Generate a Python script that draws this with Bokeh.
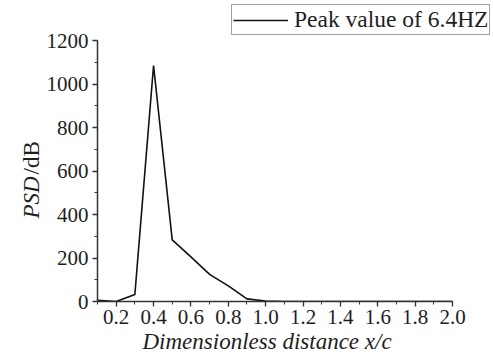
from bokeh.plotting import figure
from bokeh.layouts import row
from bokeh.models import (Range1d, SingleIntervalTicker, Legend, LegendItem,
                          PrintfTickFormatter, Title)
from bokeh.core.properties import value
from bokeh.embed import file_html
from bokeh.resources import INLINE

x_vals = [0.1, 0.2, 0.3, 0.4, 0.5, 0.6, 0.7, 0.8, 0.9, 1.0,
          1.1, 1.2, 1.3, 1.4, 1.5, 1.6, 1.7, 1.8, 1.9, 2.0]
psd_vals = [5, 0, 32, 1085, 283, 205, 125, 72, 12, 2,
            0, 0, 0, 0, 0, 0, 0, 0, 0, 0]
series_name = "Peak value of 6.4HZ"
x_label = "Dimensionless distance  x/c"
y_label_italic = "PSD"
y_label_plain = "/dB"

FONT = "Liberation Serif"
TXT = "#1e1e1e"

# geometry (pixels)
LEFT_W = 40
FRAME_LEFT = 97 - LEFT_W
FRAME_W = 493 - 97
FRAME_H = 301
px_per_x = (452 - 97) / (2.0 - 0.1)
px_per_y = (301 - 40) / 1200.0
x_end = 0.1 + FRAME_W / px_per_x
y_end = FRAME_H / px_per_y

main = figure(frame_width=FRAME_W, frame_height=FRAME_H, output_backend="svg",
              toolbar_location=None, title=None,
              x_range=Range1d(0.1, x_end), y_range=Range1d(0, y_end),
              min_border_left=FRAME_LEFT, min_border_right=0, min_border_top=0,
              min_border_bottom=0)
main.outline_line_color = None
main.grid.visible = False
main.background_fill_color = "white"
main.border_fill_color = "white"

r = main.line(x_vals, psd_vals, line_color="#111111", line_width=1.6)

main.xaxis.ticker = SingleIntervalTicker(interval=0.2, num_minor_ticks=2)
main.xaxis.formatter = PrintfTickFormatter(format="%.1f")
main.yaxis.ticker = SingleIntervalTicker(interval=200, num_minor_ticks=2)
main.xaxis.bounds = (0.1, 2.0)
main.yaxis.bounds = (0, 1200)
for ax in (main.xaxis, main.yaxis):
    ax.axis_line_color = "#333333"
    ax.axis_line_width = 1.5
    ax.major_tick_line_color = "#333333"
    ax.minor_tick_line_color = "#333333"
    ax.major_tick_line_width = 1.3
    ax.minor_tick_line_width = 1.0
    ax.major_tick_out = 5
    ax.major_tick_in = 0
    ax.minor_tick_out = 3
    ax.minor_tick_in = 0
    ax.major_label_text_font = FONT
    ax.major_label_text_font_size = "21px"
    ax.major_label_text_color = TXT
    ax.major_label_standoff = 4
main.xaxis.major_label_standoff = 3

main.add_layout(Title(text=x_label, align="left", offset=45, standoff=0,
                      text_font=FONT, text_font_style="italic", text_font_size="23px",
                      text_color=TXT), "below")

legend = Legend(items=[LegendItem(label=series_name, renderers=[r])],
                location=(134, 266), orientation="horizontal",
                label_text_font=FONT, label_text_font_size="23.5px", label_text_color=TXT,
                glyph_width=55, glyph_height=20, label_height=20,
                padding=1, margin=0, spacing=0, label_standoff=6,
                border_line_color="#444444", border_line_width=1.5,
                background_fill_color="white", background_fill_alpha=1.0)
main.add_layout(legend, "center")

# left strip with the y-axis title (positions as pixel offsets from the strip's top-left)
left = figure(width=LEFT_W, height=356, output_backend="svg", toolbar_location=None,
              title=None,
              x_range=Range1d(0, LEFT_W), y_range=Range1d(0, 356),
              x_axis_type=None, y_axis_type=None, min_border=0)
left.outline_line_color = None
left.grid.visible = False
left.text(x=[0], y=[356], x_offset=31, y_offset=218, text=[y_label_italic],
          angle=1.5707963,
          text_font=value(FONT), text_font_style="italic", text_font_size="23px",
          text_color=TXT, text_align="left", text_baseline="alphabetic")
left.text(x=[0], y=[356], x_offset=31, y_offset=174, text=[y_label_plain],
          angle=1.5707963,
          text_font=value(FONT), text_font_size="23px",
          text_color=TXT, text_align="left", text_baseline="alphabetic")

layout = row(left, main, spacing=0)
open("out.html", "w").write(file_html(layout, INLINE))
